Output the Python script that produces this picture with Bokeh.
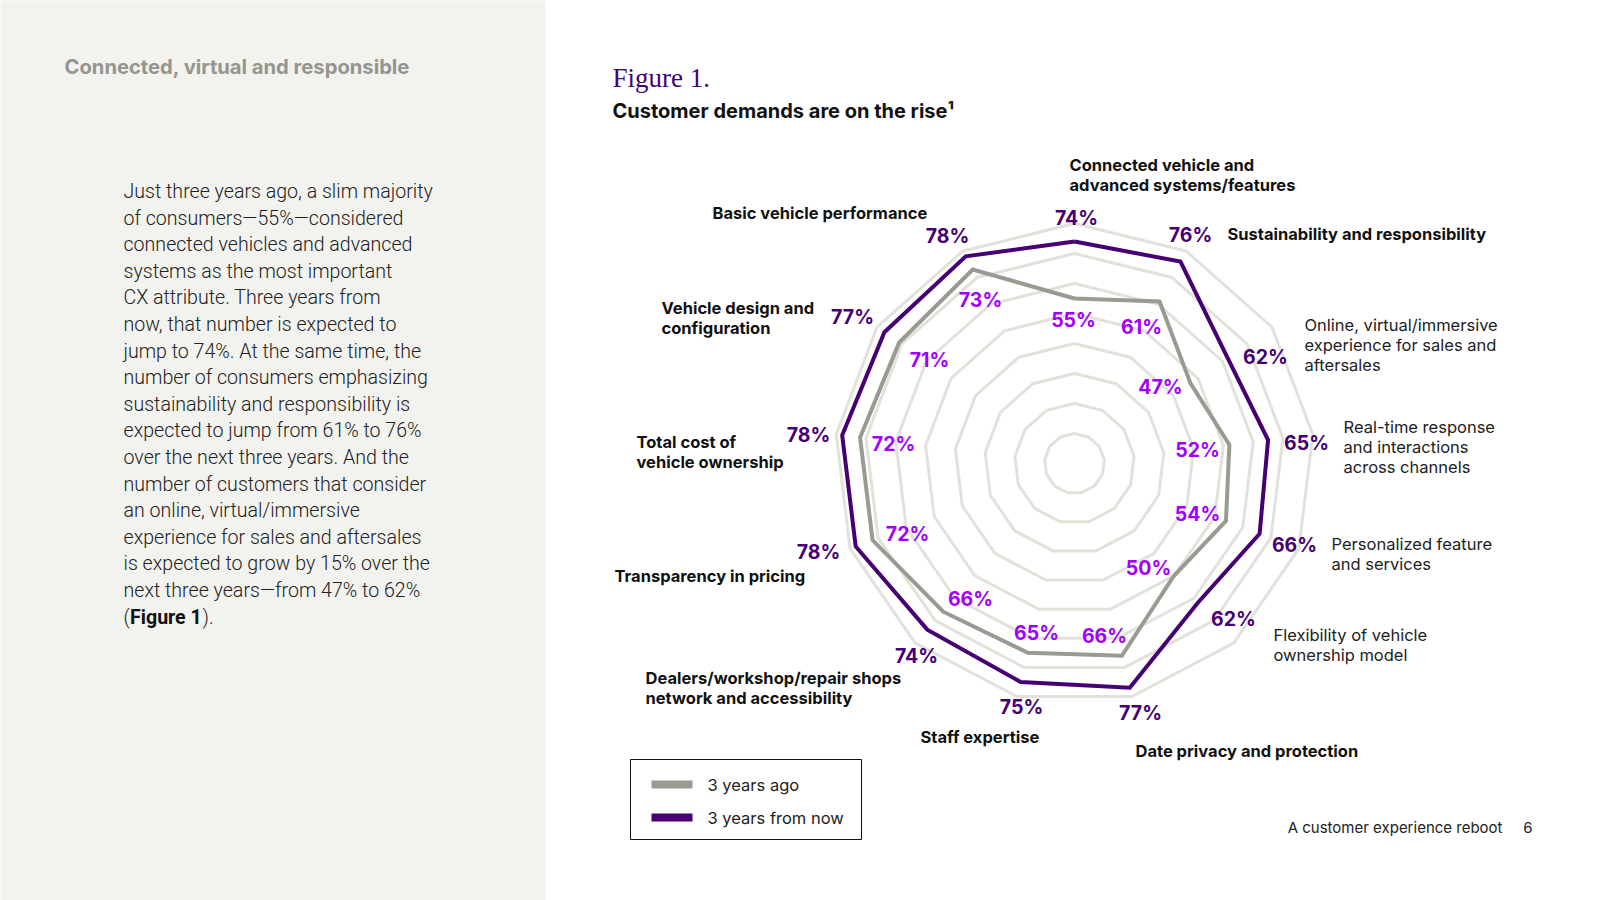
import numpy as np
from bokeh.plotting import figure
from bokeh.models import Range1d
from bokeh.core.properties import value
from bokeh.embed import file_html
from bokeh.resources import INLINE

# ---------------- data ----------------
categories = [
    "Connected vehicle and\nadvanced systems/features",
    "Sustainability and responsibility",
    "Online, virtual/immersive\nexperience for sales and\naftersales",
    "Real-time response\nand interactions\nacross channels",
    "Personalized feature\nand services",
    "Flexibility of vehicle\nownership model",
    "Date privacy and protection",
    "Staff expertise",
    "Dealers/workshop/repair shops\nnetwork and accessibility",
    "Transparency in pricing",
    "Total cost of\nvehicle ownership",
    "Vehicle design and\nconfiguration",
    "Basic vehicle performance",
]
category_bold = [True, True, False, False, False, False, True, True, True, True, True, True, True]
years_ago = [55, 61, 47, 52, 54, 50, 66, 65, 66, 72, 72, 71, 73]
years_from_now = [74, 76, 62, 65, 66, 62, 77, 75, 74, 78, 78, 77, 78]
ring_levels = [10, 20, 30, 40, 50, 60, 70, 80]
series_names = ["3 years ago", "3 years from now"]

body_lines = [
    "Just three years ago, a slim majority",
    "of consumers\u201455%\u2014considered",
    "connected vehicles and advanced",
    "systems as the most important",
    "CX attribute. Three years from",
    "now, that number is expected to",
    "jump to 74%. At the same time, the",
    "number of consumers emphasizing",
    "sustainability and responsibility is",
    "expected to jump from 61% to 76%",
    "over the next three years. And the",
    "number of customers that consider",
    "an online, virtual/immersive",
    "experience for sales and aftersales",
    "is expected to grow by 15% over the",
    "next three years\u2014from 47% to 62%",
]

# ---------------- layout (page pixels) ----------------
W, H = 1600, 900
CX, CY = 1074, 463      # radar centre on the page
S = 3.0                 # pixels per percentage point

# label anchors (page px)
cat_pos = [(1069, 164), (1227, 233), (1304, 324), (1343, 426), (1331, 543), (1273, 634),
           (1135, 750), (920, 736), (645, 677), (614, 575), (636, 441), (661, 307), (712, 212)]
dark_pos = [(1076, 217), (1190, 234), (1265, 356), (1306, 442), (1294, 544), (1233, 618),
            (1140, 712), (1021, 706), (916, 655), (818, 551), (808, 434), (852, 316), (947, 235)]
light_pos = [(1073, 319), (1141, 326), (1160, 386), (1197, 449), (1197, 513), (1148, 567),
             (1104, 635), (1036, 632), (970, 598), (907, 533), (893, 443), (929, 359), (980, 299)]

DARK = "#460073"
BRIGHT = "#a100ff"
GREY = "#9a9a92"
GRID = "#e2e2da"
PANEL = "#f2f2ee"


def px(x):
    return (x - CX) / S


def py(y):
    return (CY - y) / S


p = figure(width=W, height=H,
           x_range=Range1d(px(0), px(W)), y_range=Range1d(py(H), py(0)),
           output_backend="svg", toolbar_location=None, min_border=0,
           x_axis_location=None, y_axis_location=None)
p.grid.visible = False
p.outline_line_color = None
p.background_fill_color = "white"
p.border_fill_color = "white"

# left panel
p.quad(left=[px(-5)], right=[px(545)], top=[py(-5)], bottom=[py(905)],
       fill_color=PANEL, line_color=None)


def txt(x, y, s, size, color="#1a1a1a", bold=False, font="Inter", align="left",
        baseline="middle"):
    p.text(x=[px(x)], y=[py(y)], text=[s], text_font=value(font),
           text_font_size=f"{size}px", text_font_style="bold" if bold else "normal",
           text_color=color, text_align=align, text_baseline=baseline)


BODY_FONT = "Roboto Light"
BODY_SIZE = 19.6
# left panel texts
txt(64, 66, "Connected, virtual and responsible", 20.2, color="#959590", bold=True)
for i, line in enumerate(body_lines):
    txt(123, 191 + i * 26.6, line, BODY_SIZE, color="#222222", font=BODY_FONT)
yl = 191 + len(body_lines) * 26.6
txt(123, yl, "(", BODY_SIZE, color="#222222", font=BODY_FONT)
txt(129.5, yl, "Figure 1", BODY_SIZE, color="#111111", bold=True, font="Roboto")
txt(202, yl, ").", BODY_SIZE, color="#222222", font=BODY_FONT)

# titles
txt(612, 77, "Figure 1.", 27, color=DARK, font="Liberation Serif")
txt(612, 110, "Customer demands are on the rise\u00b9", 20, color="#111111", bold=True)

# radar
n = len(years_ago)
theta = np.arange(n) * 2 * np.pi / n


def ring(vals):
    v = np.asarray(vals, dtype=float)
    xs = v * np.sin(theta)
    ys = v * np.cos(theta)
    return list(np.append(xs, xs[0])), list(np.append(ys, ys[0]))


gx, gy = [], []
for lv in ring_levels:
    rx, ry = ring([lv] * n)
    gx.append(rx)
    gy.append(ry)
p.multi_line(xs=gx, ys=gy, line_color=GRID, line_width=3)

ax_, ay_ = ring(years_ago)
p.line(ax_, ay_, line_color=GREY, line_width=4, line_join="miter")
fx_, fy_ = ring(years_from_now)
p.line(fx_, fy_, line_color=DARK, line_width=4, line_join="miter")

# category labels
for name, bold, (x, y) in zip(categories, category_bold, cat_pos):
    for j, line in enumerate(name.split("\n")):
        txt(x, y + j * 20, line, 16.5,
            color="#111111" if bold else "#222222", bold=bold)

# value labels
for v, (x, y) in zip(years_from_now, dark_pos):
    txt(x, y, f"{v}%", 19.5, color=DARK, bold=True, align="center")
for v, (x, y) in zip(years_ago, light_pos):
    txt(x, y, f"{v}%", 19.5, color=BRIGHT, bold=True, align="center")

# legend
p.quad(left=[px(630)], right=[px(861)], top=[py(759)], bottom=[py(839)],
       fill_color=None, line_color="#111111", line_width=1)
for k, (nm, col) in enumerate(zip(series_names, [GREY, DARK])):
    yy = 784 + k * 33
    p.quad(left=[px(651)], right=[px(692)], top=[py(yy - 4)], bottom=[py(yy + 4)],
           fill_color=col, line_color=None)
    txt(707, yy, nm, 16.5, color="#222222")

# footer
txt(1502, 827, "A customer experience reboot", 15, color="#222222", align="right")
txt(1532, 827, "6", 15, color="#222222", align="right")

open("out.html", "w").write(file_html(p, INLINE))
